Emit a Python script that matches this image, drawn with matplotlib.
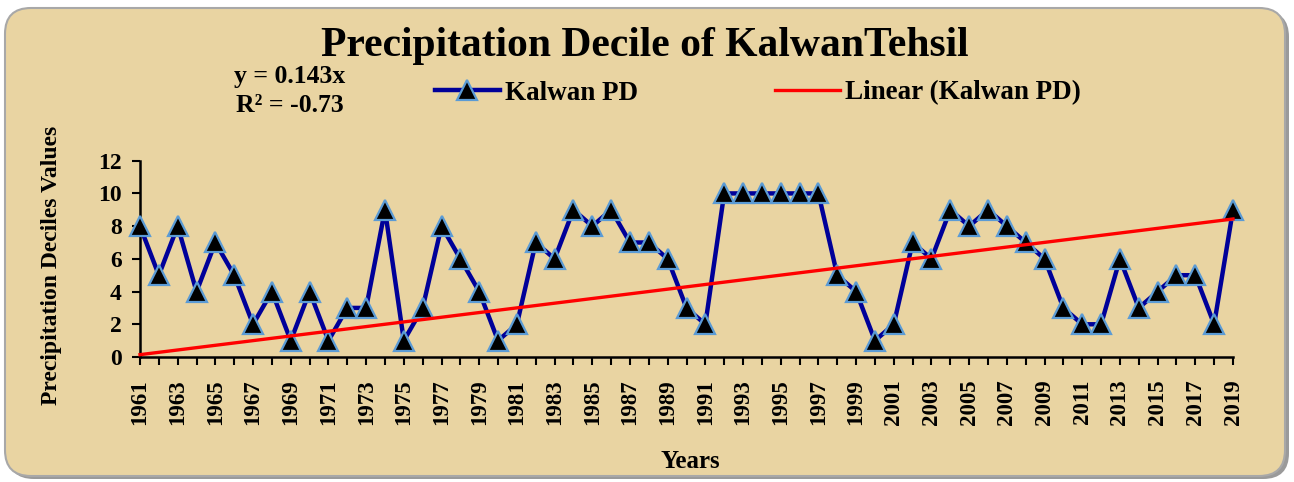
import matplotlib
matplotlib.use("Agg")
import matplotlib.pyplot as plt
from matplotlib.patches import FancyBboxPatch

years = list(range(1961, 2020))
decile = [8, 5, 8, 4, 7, 5, 2, 4, 1, 4,
          1, 3, 3, 9, 1, 3, 8, 6, 4, 1,
          2, 7, 6, 9, 8, 9, 7, 7, 6, 3,
          2, 10, 10, 10, 10, 10, 10, 5, 4, 1,
          2, 7, 6, 9, 8, 9, 8, 7, 6, 3,
          2, 2, 6, 3, 4, 5, 5, 2, 9]
slope = 0.143
trend = [slope * (i + 1) for i in range(len(years))]
yticks = [0, 2, 4, 6, 8, 10, 12]

SERIF = ["Liberation Serif", "DejaVu Serif"]
plt.rcParams['font.family'] = SERIF
plt.rcParams['font.weight'] = 'bold'

W, H = 1294, 482
fig = plt.figure(figsize=(W / 100, H / 100), dpi=100)
fig.patch.set_facecolor("white")

# rounded parchment frame (with shadow)
shadow = FancyBboxPatch((8 / W, 3 / H), 1281 / W, 468 / H,
                        boxstyle="round,pad=0,rounding_size=0.02",
                        transform=fig.transFigure, facecolor="#9a9a9a",
                        edgecolor="none", zorder=-3, mutation_aspect=W / H)
fig.patches.append(shadow)
frame = FancyBboxPatch((5 / W, 6 / H), 1280 / W, 468 / H,
                       boxstyle="round,pad=0,rounding_size=0.02",
                       transform=fig.transFigure, facecolor="#E9D4A2",
                       edgecolor="#a8a8a8", linewidth=1.5, zorder=-2,
                       mutation_aspect=W / H)
fig.patches.append(frame)

ax = fig.add_axes([140 / W, 1 - 357 / H, (1233 - 140) / W, (357 - 160.7) / H])
ax.set_zorder(2)
ax.set_facecolor("none")

ax.plot(years, decile, color="#000099", lw=3.2, marker="^", markersize=14,
        markerfacecolor="black", markeredgecolor="#5B9BD5", markeredgewidth=1.6,
        zorder=3, clip_on=False, label="Kalwan PD")
ax.plot(years, trend, color="#FF0000", lw=2.4, zorder=4, clip_on=False,
        label="Linear (Kalwan PD)")

ax.set_xlim(years[0], years[-1])
ax.set_ylim(0, 12)
ax.set_yticks(yticks)
ax.set_xticks(years)
ax.set_xticklabels([str(y) if (y - years[0]) % 2 == 0 else "" for y in years],
                   rotation=90, fontsize=16.5, fontweight="bold")
for lab in ax.get_yticklabels():
    lab.set_fontsize(17)
    lab.set_fontweight("bold")

for s in ["top", "right"]:
    ax.spines[s].set_visible(False)
for s in ["left", "bottom"]:
    ax.spines[s].set_linewidth(1.8)
    ax.spines[s].set_color("black")
ax.tick_params(axis="both", direction="out", length=6, width=1.5, colors="black")
ax.tick_params(axis="x", pad=10)
ax.tick_params(axis="y", pad=7)

ax.set_ylabel("Precipitation Deciles Values", fontsize=17, fontweight="bold")
ax.yaxis.set_label_coords((52 - 140) / (1233 - 140), (357 - 265) / (357 - 160.7))
ax.set_xlabel("Years", fontsize=18, fontweight="bold")
ax.xaxis.set_label_coords((690 - 140) / (1233 - 140), -(462 - 357) / (357 - 160.7))
ax.xaxis.label.set_va("center")
ax.yaxis.label.set_va("center")

fig.text(645 / W, 1 - 46 / H, "Precipitation Decile of KalwanTehsil",
         ha="center", va="center", fontsize=30, fontweight="bold")
fig.text(290 / W, 1 - 77 / H, "y = 0.143x", ha="center", va="center",
         fontsize=18.5, fontweight="bold")
fig.text(290 / W, 1 - 105 / H, "R² = -0.73", ha="center", va="center",
         fontsize=18.5, fontweight="bold")

fs = 19.5
px = fs * 100 / 72
ax.legend(loc="center left", bbox_to_anchor=(435 / W, 1 - 93 / H),
          bbox_transform=fig.transFigure, ncol=2, frameon=False,
          handlelength=65 / px, handletextpad=5 / px,
          columnspacing=137 / px, borderpad=0, borderaxespad=0,
          prop={"family": SERIF, "weight": "bold", "size": fs})

fig.savefig("out.png", dpi=100, facecolor=fig.get_facecolor())
